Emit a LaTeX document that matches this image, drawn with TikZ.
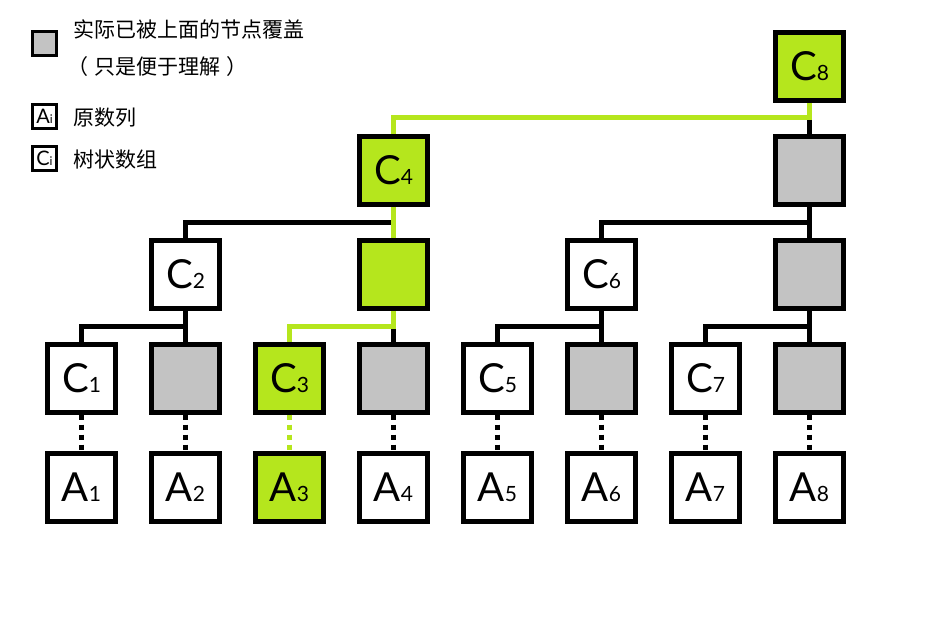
\documentclass[tikz,border=0pt]{standalone}
\usepackage{fontspec}
\newfontfamily\labfont{Lato}
\newfontfamily\cjk{Noto Sans CJK SC}
\definecolor{hlgreen}{HTML}{B5E61D}
\definecolor{shade}{HTML}{C3C3C3}
\newcommand\boxlbl[2]{{\labfont\fontsize{40}{40}\selectfont #1\fontsize{21}{21}\selectfont #2}}
\newcommand\leglbl[2]{{\labfont\fontsize{20}{20}\selectfont #1\fontsize{12}{12}\selectfont #2}}
\begin{document}
\begin{tikzpicture}[x=1pt,y=-1pt,
  box/.style={draw=black, line width=5pt, minimum size=68pt, inner sep=0pt, fill=white},
  grn/.style={fill=hlgreen},
  gry/.style={fill=shade},
  conn/.style={draw=black, line width=5pt},
  hl/.style={draw=hlgreen, line width=5pt},
  dots/.style={line width=5pt, dash pattern=on 5pt off 5pt},
  lbox/.style={draw=black, line width=3pt, minimum size=24pt, inner sep=0pt, fill=white},
  legtext/.style={anchor=west, inner sep=0pt, font=\cjk\fontsize{21}{21}\selectfont}
]
\useasboundingbox (0,0) rectangle (936,623);

% legend
\node[lbox, gry] (lg) at (44.5,43.5) {};
\node[legtext] (t1) at (73,29) {实际已被上面的节点覆盖};
\node[legtext] (t2) at (73,67) {\kern-6pt（\kern6pt 只是便于理解\kern6pt）};
\node[lbox] (la) at (44.5,116.5) {\leglbl{A}{i}};
\node[legtext] (t3) at (73,118) {原数列};
\node[lbox] (lc) at (44.5,158) {\leglbl{C}{i}};
\node[legtext] (t4) at (73,160) {树状数组};

% row A
\node[box] (a1) at (81.5,487) {\boxlbl{A}{1}};
\node[box] (a2) at (185.5,487) {\boxlbl{A}{2}};
\node[box,grn] (a3) at (289.5,487) {\boxlbl{A}{3}};
\node[box] (a4) at (393.5,487) {\boxlbl{A}{4}};
\node[box] (a5) at (497.5,487) {\boxlbl{A}{5}};
\node[box] (a6) at (601.5,487) {\boxlbl{A}{6}};
\node[box] (a7) at (705.5,487) {\boxlbl{A}{7}};
\node[box] (a8) at (809.5,487) {\boxlbl{A}{8}};

% level 1
\node[box] (c1) at (81.5,378) {\boxlbl{C}{1}};
\node[box,gry] (s2) at (185.5,378) {};
\node[box,grn] (c3) at (289.5,378) {\boxlbl{C}{3}};
\node[box,gry] (s4) at (393.5,378) {};
\node[box] (c5) at (497.5,378) {\boxlbl{C}{5}};
\node[box,gry] (s6) at (601.5,378) {};
\node[box] (c7) at (705.5,378) {\boxlbl{C}{7}};
\node[box,gry] (s8a) at (809.5,378) {};

% level 2
\node[box] (c2) at (185.5,274.5) {\boxlbl{C}{2}};
\node[box,grn] (g4) at (393.5,274.5) {};
\node[box] (c6) at (601.5,274.5) {\boxlbl{C}{6}};
\node[box,gry] (s8b) at (809.5,274.5) {};

% level 3
\node[box,grn] (c4) at (393.5,170.5) {\boxlbl{C}{4}};
\node[box,gry] (s8c) at (809.5,170.5) {};

% level 4
\node[box,grn] (c8) at (809.5,66.5) {\boxlbl{C}{8}};

% junctions
\coordinate (j2) at (185.5,326);
\coordinate (jg4) at (393.5,326);
\coordinate (j6) at (601.5,326);
\coordinate (j8) at (809.5,326);
\coordinate (k4) at (393.5,222);
\coordinate (k8) at (809.5,222);
\coordinate (m8) at (809.5,118);

% black connectors
\draw[conn] (c1.north) |- (j2) -- (c2.south);
\draw[conn] (s2.north) -- (j2);
\draw[conn] (s4.north) -- (jg4);
\draw[conn] (c5.north) |- (j6) -- (c6.south);
\draw[conn] (s6.north) -- (j6);
\draw[conn] (c7.north) |- (j8) -- (s8b.south);
\draw[conn] (s8a.north) -- (j8);
\draw[conn] (c2.north) |- (k4);
\draw[conn] (c6.north) |- (k8) -- (s8c.south);
\draw[conn] (s8b.north) -- (k8);
\draw[conn] (s8c.north) -- (m8);

% highlighted connectors
\draw[hl] (c3.north) |- (jg4) -- (g4.south);
\draw[hl] (g4.north) -- (c4.south);
\draw[hl] (c4.north) |- (m8) -- (c8.south);

% dotted links
\draw[dots, black] (c1.south) -- (a1.north);
\draw[dots, black] (s2.south) -- (a2.north);
\draw[dots, hlgreen] (c3.south) -- (a3.north);
\draw[dots, black] (s4.south) -- (a4.north);
\draw[dots, black] (c5.south) -- (a5.north);
\draw[dots, black] (s6.south) -- (a6.north);
\draw[dots, black] (c7.south) -- (a7.north);
\draw[dots, black] (s8a.south) -- (a8.north);
\end{tikzpicture}
\end{document}
